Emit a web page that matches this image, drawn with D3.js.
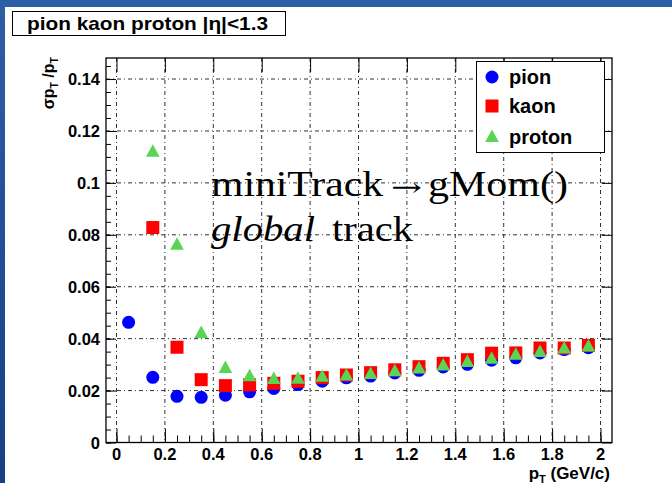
<!DOCTYPE html>
<html><head><meta charset="utf-8">
<script src="https://cdn.jsdelivr.net/npm/d3@7"></script>
<style>body{margin:0;background:#fff}svg{display:block}</style>
</head><body>
<script>
const pt = [0.05,0.15,0.25,0.35,0.45,0.55,0.65,0.75,0.85,0.95,1.05,1.15,1.25,1.35,1.45,1.55,1.65,1.75,1.85,1.95];
const pion = [0.0463,0.0251,0.0178,0.0174,0.0182,0.0195,0.0208,0.0223,0.0236,0.0249,0.0256,0.0268,0.0278,0.0291,0.0301,0.0317,0.0326,0.0345,0.0358,0.0365];
const kaon = [null,0.0828,0.0367,0.0242,0.0219,0.0222,0.0228,0.0236,0.0250,0.0260,0.0269,0.0280,0.0292,0.0305,0.0319,0.0344,0.0345,0.0364,0.0364,0.0374];
const proton = [null,0.1120,0.0762,0.0422,0.0287,0.0255,0.0245,0.0246,0.0253,0.0258,0.0264,0.0274,0.0285,0.0297,0.0310,0.0323,0.0338,0.0349,0.0362,0.0370];
const xTicks = [0,0.2,0.4,0.6,0.8,1,1.2,1.4,1.6,1.8,2];
const xTickLabels = ["0","0.2","0.4","0.6","0.8","1","1.2","1.4","1.6","1.8","2"];
const yTicks = [0,0.02,0.04,0.06,0.08,0.1,0.12,0.14];
const yTickLabels = ["0","0.02","0.04","0.06","0.08","0.1","0.12","0.14"];
const seriesNames = ["pion","kaon","proton"];
const seriesColors = ["#0000ff","#ff0000","#59d454"];

const W=672,H=483;
const L=106,R=612,T=58,B=442.5;
const svg=d3.select("body").append("svg").attr("width",W).attr("height",H);
const defs=svg.append("defs");
const grad=defs.append("linearGradient").attr("id","lg").attr("x1",0).attr("y1",0).attr("x2",0).attr("y2",1);
grad.append("stop").attr("offset","0%").attr("stop-color","#2d5fa6");
grad.append("stop").attr("offset","100%").attr("stop-color","#173f84");
svg.append("rect").attr("x",0).attr("y",0).attr("width",W).attr("height",H).attr("fill","#fff");
svg.append("rect").attr("x",0).attr("y",0).attr("width",W).attr("height",7).attr("fill","#2d5fa6");
svg.append("rect").attr("x",0).attr("y",0).attr("width",5).attr("height",H).attr("fill","url(#lg)");

const x=d3.scaleLinear().domain([-0.0434,2.0475]).range([L,R]);
const y=d3.scaleLinear().domain([0,0.1481]).range([B,T]);

// grid
const grid=svg.append("g").attr("stroke","#333").attr("stroke-width",1).attr("stroke-dasharray","4,3,1,3");
xTicks.forEach(v=>grid.append("line").attr("x1",x(v)).attr("x2",x(v)).attr("y1",T).attr("y2",B));
yTicks.forEach(v=>grid.append("line").attr("x1",L).attr("x2",R).attr("y1",y(v)).attr("y2",y(v)));

// axes via d3 axis
const xMinor=d3.range(0,2.0001,0.05);
const yMinor=d3.range(0,0.1481,0.005);
const axB=svg.append("g").attr("transform",`translate(0,${B})`)
  .call(d3.axisTop(x).tickValues(xMinor).tickSize(7).tickFormat(""));
const axB2=svg.append("g").attr("transform",`translate(0,${B})`)
  .call(d3.axisTop(x).tickValues(xTicks).tickSize(14).tickFormat(""));
const axTop=svg.append("g").attr("transform",`translate(0,${T})`)
  .call(d3.axisBottom(x).tickValues(xTicks).tickSize(14).tickFormat(""));
const axL=svg.append("g").attr("transform",`translate(${L},0)`)
  .call(d3.axisRight(y).tickValues(yMinor).tickSize(5).tickFormat(""));
const axL2=svg.append("g").attr("transform",`translate(${L},0)`)
  .call(d3.axisRight(y).tickValues(yTicks).tickSize(10).tickFormat(""));
const axR=svg.append("g").attr("transform",`translate(${R},0)`)
  .call(d3.axisLeft(y).tickValues(yTicks).tickSize(10).tickFormat(""));
[axB,axB2,axTop,axL,axL2,axR].forEach(g=>{g.select(".domain").remove();g.selectAll("line").attr("stroke","#000");});

svg.append("rect").attr("x",L).attr("y",T).attr("width",R-L).attr("height",B-T).attr("fill","none").attr("stroke","#000").attr("stroke-width",1.3);

// tick labels
const lab=svg.append("g").attr("font-family","Liberation Sans, Arial, sans-serif").attr("font-weight","bold").attr("font-size",16.5).attr("fill","#000");
xTicks.forEach((v,i)=>lab.append("text").attr("x",x(v)).attr("y",459.5).attr("text-anchor","middle").text(xTickLabels[i]));
yTicks.forEach((v,i)=>lab.append("text").attr("x",100).attr("y",y(v)+6).attr("text-anchor","end").text(yTickLabels[i]));

// axis titles
const xt=svg.append("text").attr("x",610).attr("y",478.5).attr("text-anchor","end")
  .attr("font-family","Liberation Sans, Arial, sans-serif").attr("font-weight","bold").attr("font-size",17);
xt.append("tspan").text("p");
xt.append("tspan").attr("font-size",11).attr("dy",4).text("T");
xt.append("tspan").attr("dy",-4).text(" (GeV/c)");
const yt=svg.append("text").attr("transform","translate(54,57) rotate(-90)").attr("text-anchor","end")
  .attr("font-family","Liberation Sans, Arial, sans-serif").attr("font-weight","bold").attr("font-size",16);
yt.append("tspan").text("σp");
yt.append("tspan").attr("font-size",10.5).attr("dy",4).text("T");
yt.append("tspan").attr("dy",-4).text(" /p");
yt.append("tspan").attr("font-size",10.5).attr("dy",4).text("T");

// markers
const tri=d3.line()([[0,-7.5],[6.8,5],[-6.8,5]])+"Z";
function drawSeries(vals,idx){
  const g=svg.append("g").attr("fill",seriesColors[idx]);
  const d=pt.map((p,i)=>({p,v:vals[i]})).filter(o=>o.v!==null);
  if(idx===0) g.selectAll("circle").data(d).join("circle").attr("cx",o=>x(o.p)).attr("cy",o=>y(o.v)).attr("r",6.5);
  if(idx===1) g.selectAll("rect").data(d).join("rect").attr("x",o=>x(o.p)-6.5).attr("y",o=>y(o.v)-6.5).attr("width",13).attr("height",13);
  if(idx===2) g.selectAll("path").data(d).join("path").attr("d",tri).attr("transform",o=>`translate(${x(o.p)},${y(o.v)})`);
}
drawSeries(pion,0);drawSeries(kaon,1);drawSeries(proton,2);

// legend
const lg=svg.append("g");
lg.append("rect").attr("x",476.5).attr("y",61.5).attr("width",128).attr("height",91).attr("fill","#fff").attr("stroke","#000").attr("stroke-width",1);
const ly=[77,106,137];
seriesNames.forEach((n,i)=>{
  if(i===0) lg.append("circle").attr("cx",492).attr("cy",ly[i]).attr("r",6.5).attr("fill",seriesColors[i]);
  if(i===1) lg.append("rect").attr("x",485.5).attr("y",ly[i]-6.5).attr("width",13).attr("height",13).attr("fill",seriesColors[i]);
  if(i===2) lg.append("path").attr("d",tri).attr("transform",`translate(492,${ly[i]})`).attr("fill",seriesColors[i]);
  lg.append("text").attr("x",509).attr("y",ly[i]+7).attr("font-family","Liberation Sans, Arial, sans-serif").attr("font-weight","bold").attr("font-size",20).text(n);
});

// annotation
const ann=svg.append("g").attr("font-family","Liberation Serif, Times New Roman, serif").attr("font-size",36).attr("fill","#000");
ann.append("text").attr("x",211).attr("y",196).attr("textLength",172).attr("lengthAdjust","spacingAndGlyphs").text("miniTrack");
ann.append("text").attr("x",391).attr("y",196).attr("font-family","DejaVu Serif, DejaVu Sans, serif").attr("font-size",26).attr("textLength",31).attr("lengthAdjust","spacingAndGlyphs").text("→");
ann.append("text").attr("x",428).attr("y",196).attr("textLength",140).attr("lengthAdjust","spacingAndGlyphs").text("gMom()");
ann.append("text").attr("x",211).attr("y",241).attr("font-style","italic").attr("textLength",104).attr("lengthAdjust","spacingAndGlyphs").text("global");
ann.append("text").attr("x",332).attr("y",241).attr("textLength",81).attr("lengthAdjust","spacingAndGlyphs").text("track");

// title box
svg.append("rect").attr("x",12.5).attr("y",11.5).attr("width",273).attr("height",24).attr("fill","#fff").attr("stroke","#000").attr("stroke-width",1);
svg.append("text").attr("x",27).attr("y",29.5).attr("font-family","Liberation Sans, Arial, sans-serif").attr("font-weight","bold").attr("font-size",19).attr("textLength",241).attr("lengthAdjust","spacingAndGlyphs").text("pion kaon proton |η|<1.3");
</script>
</body></html>
